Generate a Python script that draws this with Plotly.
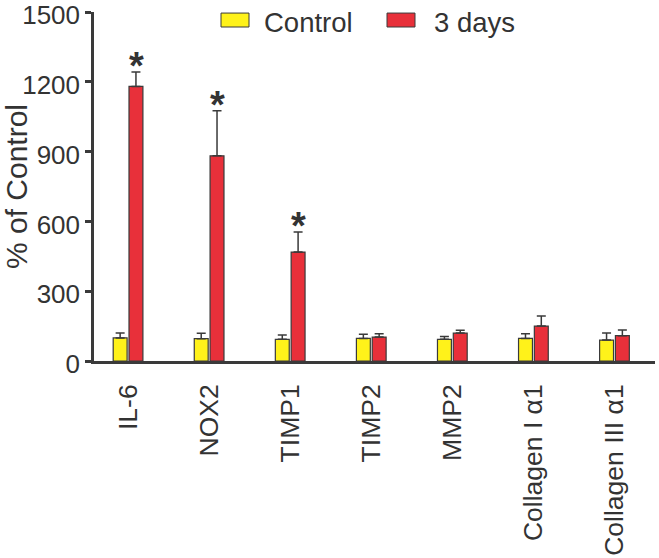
import plotly.graph_objects as go

categories = ["IL-6", "NOX2", "TIMP1", "TIMP2", "MMP2", "Collagen I α1", "Collagen III α1"]
control = [99, 96, 93, 97, 93, 97, 90]
control_err = [21, 23, 19, 18, 12, 20, 30]
days3 = [1180, 882, 468, 103, 120, 150, 109]
days3_err = [62, 194, 86, 14, 12, 43, 24]
significant = [True, True, True, False, False, False, False]
yticks = [0, 300, 600, 900, 1200, 1500]
series_names = ["Control", "3 days"]
series_colors = ["#FFF21A", "#E8303A"]

FONT = "Liberation Sans, Arial, sans-serif"
TXT = "#333333"
EDGE = "#3a3a3a"

fig = go.Figure()
for name, vals, errs, col in zip(series_names, [control, days3], [control_err, days3_err], series_colors):
    fig.add_trace(go.Bar(
        x=categories, y=vals, name=name, showlegend=False,
        marker=dict(color=col, line=dict(color=EDGE, width=1.2)),
        error_y=dict(type="data", array=errs, arrayminus=[0] * len(vals),
                     symmetric=False, color=EDGE, thickness=1.5, width=4.5),
    ))

for c, v, e, s in zip(categories, days3, days3_err, significant):
    if s:
        fig.add_annotation(x=c, y=v + e, text="<b>*</b>", showarrow=False,
                           xref="x", yref="y", xshift=8.5, yanchor="bottom", yshift=-17,
                           font=dict(family=FONT, size=38, color=TXT))

# legend drawn as keys (wide boxes) + labels, placed in paper coordinates
legend_box_x = [(0.2264, 0.2763), (0.5223, 0.5722)]
legend_text_x = [0.2995, 0.6025]
for name, col, (x0, x1), tx in zip(series_names, series_colors, legend_box_x, legend_text_x):
    fig.add_shape(type="rect", xref="paper", yref="paper", x0=x0, x1=x1, y0=0.957, y1=0.997,
                  fillcolor=col, line=dict(color=EDGE, width=1))
    fig.add_annotation(xref="paper", yref="paper", x=tx, y=0.9685, text=name, showarrow=False,
                       xanchor="left", yanchor="middle",
                       font=dict(family=FONT, size=27.5, color=TXT))

fig.update_layout(
    width=659, height=558,
    margin=dict(l=94, r=4, t=12, b=197),
    paper_bgcolor="white", plot_bgcolor="white",
    barmode="group", bargap=0.61, bargroupgap=0.12,
    font=dict(family=FONT, color=TXT),
    showlegend=False,
)
fig.update_xaxes(
    type="category", range=[-0.42, 6.5], showgrid=False, zeroline=False,
    showline=True, linecolor=EDGE, linewidth=2.5, automargin=False,
    ticks="outside", ticklen=10, tickcolor="rgba(0,0,0,0)",
    tickangle=-90, tickfont=dict(size=26.5, color=TXT),
)
fig.update_yaxes(
    range=[0, 1500], tickvals=yticks, showgrid=False, zeroline=False,
    showline=True, linecolor=EDGE, linewidth=2.5, automargin=False,
    ticks="outside", ticklen=6, tickwidth=2.5, tickcolor=EDGE,
    tickfont=dict(size=26, color=TXT), ticklabeloverflow="allow", ticklabelshift=3,
    title=dict(text="% of Control", font=dict(size=30, color=TXT), standoff=6),
)

# remove the browser's default 8px page margin so the figure sits at the window origin
fig.write_html("out.html", config={"displayModeBar": False},
               post_script="document.body.style.margin='0';")
